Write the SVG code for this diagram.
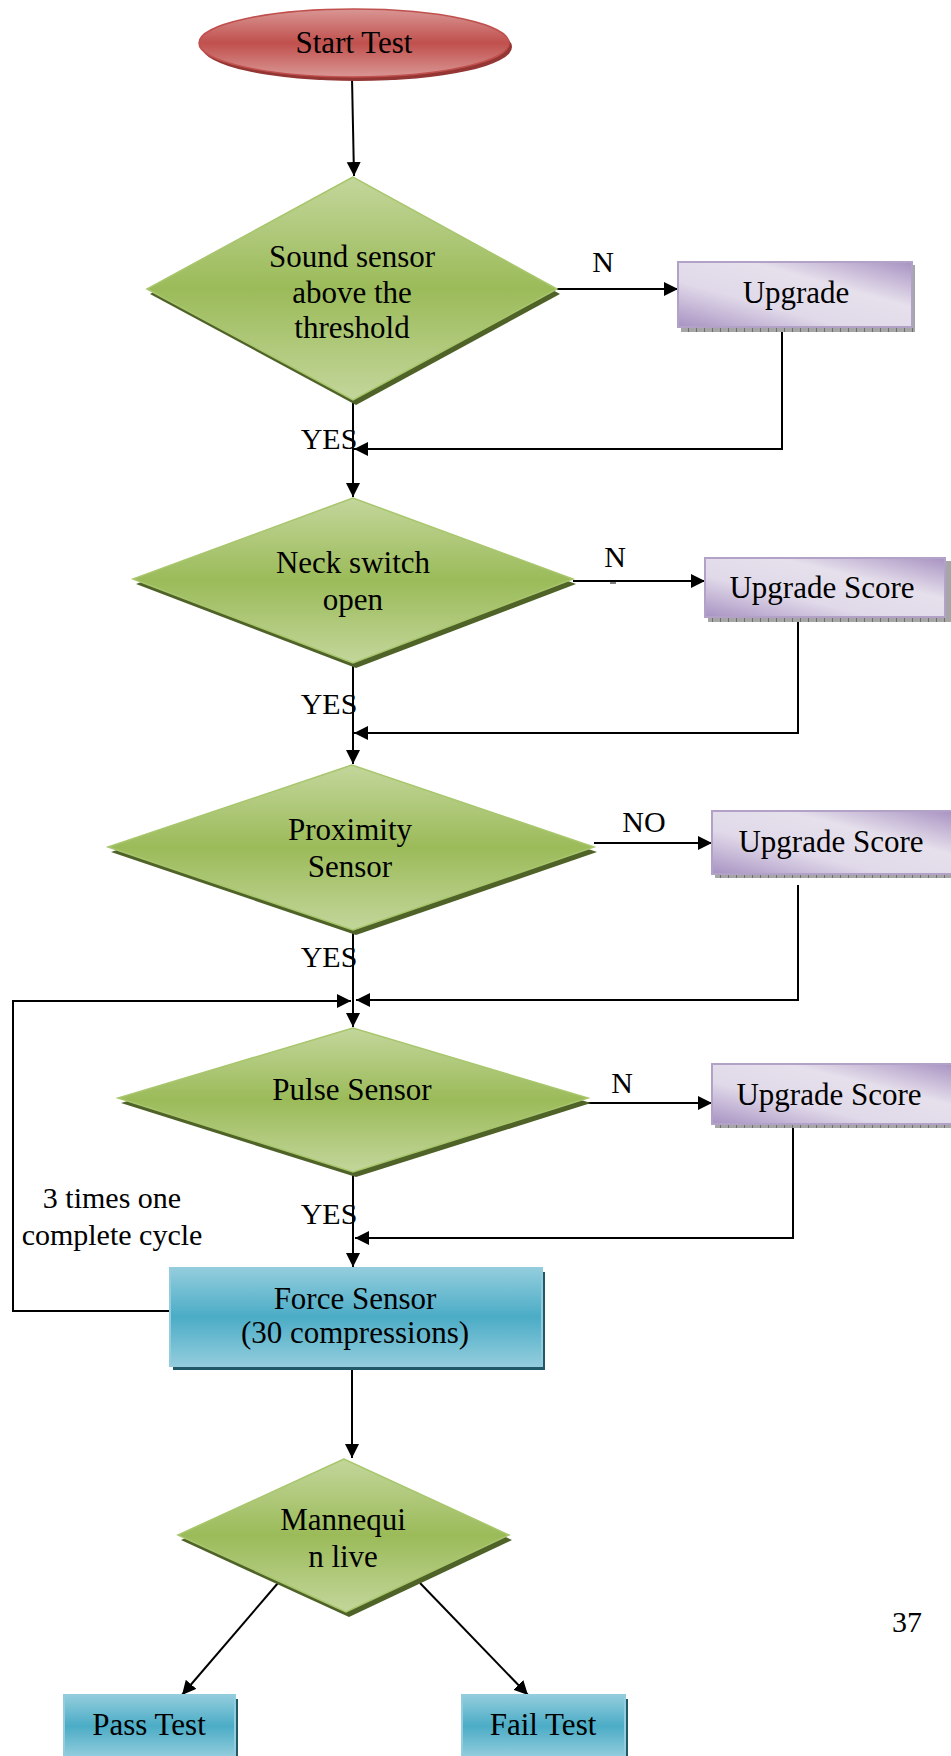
<svg xmlns="http://www.w3.org/2000/svg" width="951" height="1756" viewBox="0 0 951 1756">
<style>
text{font-family:"Liberation Serif","Times New Roman",serif;font-size:31px;fill:#000;text-anchor:middle}
.lbl{font-size:30px}
.cn{fill:none;stroke:#000;stroke-width:2}
.dia{fill:url(#gGreen);stroke:#a8c66c;stroke-width:1.5}
.diaS{fill:#4f6228}
.pur{fill:url(#gPurple);stroke:#b3a2c7;stroke-width:2}
.purS{fill:url(#hatch)}
.teal{fill:url(#gTeal);stroke:#93cddd;stroke-width:2}
.tealS{fill:#215968}
</style>
<defs>
<linearGradient id="gGreen" x1="0" y1="0" x2="0" y2="1">
<stop offset="0" stop-color="#c3d69b"/><stop offset="0.5" stop-color="#9bbb59"/><stop offset="1" stop-color="#c3d69b"/>
</linearGradient>
<linearGradient id="gTeal" x1="0" y1="0" x2="0" y2="1">
<stop offset="0" stop-color="#93cddd"/><stop offset="0.5" stop-color="#4bacc6"/><stop offset="1" stop-color="#93cddd"/>
</linearGradient>
<linearGradient id="gRed" x1="0" y1="0" x2="0" y2="1">
<stop offset="0" stop-color="#d99694"/><stop offset="0.5" stop-color="#c0504d"/><stop offset="1" stop-color="#d99694"/>
</linearGradient>
<linearGradient id="gPurple" x1="0" y1="1" x2="1" y2="0">
<stop offset="0" stop-color="#a892c2"/><stop offset="0.35" stop-color="#e0d9e9"/><stop offset="0.65" stop-color="#e6e0ec"/><stop offset="1" stop-color="#a892c2"/>
</linearGradient>
<pattern id="hatch" width="8" height="6" patternUnits="userSpaceOnUse">
<rect width="8" height="6" fill="#a6a6a6"/><rect width="1" height="6" fill="#6f6f6f"/>
</pattern>
<marker id="ah" markerUnits="userSpaceOnUse" markerWidth="16" markerHeight="16" refX="14" refY="7" orient="auto">
<path d="M0,0 L14,7 L0,14 Z" fill="#000"/>
</marker>
</defs>

<g id="connectors">
<path class="cn" d="M352,78 L354,176" marker-end="url(#ah)"/>
<path class="cn" d="M557,289 L678,289" marker-end="url(#ah)"/>
<path class="cn" d="M782,327 L782,449 L354,449" marker-end="url(#ah)"/>
<path class="cn" d="M353,400 L353,497" marker-end="url(#ah)"/>
<path class="cn" d="M573,581 L705,581" marker-end="url(#ah)"/>
<path class="cn" d="M798,618 L798,733 L354,733" marker-end="url(#ah)"/>
<path class="cn" d="M353,663 L353,764" marker-end="url(#ah)"/>
<path class="cn" d="M594,843 L712,843" marker-end="url(#ah)"/>
<path class="cn" d="M798,885 L798,1000 L356,1000" marker-end="url(#ah)"/>
<path class="cn" d="M170,1311 L13,1311 L13,1001 L351,1001" marker-end="url(#ah)"/>
<path class="cn" d="M353,930 L353,1027" marker-end="url(#ah)"/>
<path class="cn" d="M588,1103 L712,1103" marker-end="url(#ah)"/>
<path class="cn" d="M793,1124 L793,1238 L355,1238" marker-end="url(#ah)"/>
<path class="cn" d="M353,1172 L353,1267" marker-end="url(#ah)"/>
<path class="cn" d="M352,1366 L352,1458" marker-end="url(#ah)"/>
<path class="cn" d="M278,1583 L182,1695" marker-end="url(#ah)"/>
<path class="cn" d="M420,1583 L528,1695" marker-end="url(#ah)"/>
<path d="M610,583 L616,583" stroke="#000" stroke-width="1"/>
<text class="lbl" x="329" y="449">YES</text>
<text class="lbl" x="329" y="714">YES</text>
<text class="lbl" x="329" y="967">YES</text>
<text class="lbl" x="329" y="1224">YES</text>
<text class="lbl" x="603" y="272">N</text>
<text class="lbl" x="615" y="567">N</text>
<text class="lbl" x="644" y="832">NO</text>
<text class="lbl" x="622" y="1093">N</text>
<text class="lbl" x="112" y="1208">3 times one</text>
<text class="lbl" x="112" y="1245">complete cycle</text>
</g>

<g id="start">
<ellipse cx="357" cy="47" rx="155" ry="34" fill="#943634"/>
<ellipse cx="354" cy="43" rx="155" ry="34" fill="url(#gRed)" stroke="#c0504d" stroke-width="1.5"/>
<text x="354" y="53">Start Test</text>
</g>

<g id="sound">
<polygon class="diaS" points="356,182 150,294 356,405 560,294"/>
<polygon class="dia" points="353,177 147,289 353,400 557,289"/>
<text x="352" y="267">Sound sensor</text>
<text x="352" y="303">above the</text>
<text x="352" y="338">threshold</text>
</g>

<g id="upgrade1">
<rect class="purS" x="681" y="265" width="234" height="67"/>
<rect class="pur" x="678" y="262" width="234" height="65"/>
<text x="796" y="303">Upgrade</text>
</g>

<g id="neck">
<polygon class="diaS" points="356,503 136,584 356,668 576,584"/>
<polygon class="dia" points="353,498 133,579 353,663 573,579"/>
<text x="353" y="573">Neck switch</text>
<text x="353" y="610">open</text>
</g>

<g id="upgrade2">
<rect class="purS" x="708" y="561" width="243" height="61"/>
<rect class="pur" x="705" y="558" width="240" height="59"/>
<text x="822" y="598">Upgrade Score</text>
</g>

<g id="proximity">
<polygon class="diaS" points="355,770 111,852 356,935 597,852"/>
<polygon class="dia" points="352,765 108,847 353,930 594,847"/>
<text x="350" y="840">Proximity</text>
<text x="350" y="877">Sensor</text>
</g>

<g id="upgrade3">
<rect class="purS" x="715" y="814" width="240" height="64"/>
<rect class="pur" x="712" y="811" width="242" height="63"/>
<text x="831" y="852">Upgrade Score</text>
</g>

<g id="pulse">
<polygon class="diaS" points="356,1033 121,1103 356,1177 591,1103"/>
<polygon class="dia" points="353,1028 118,1098 353,1172 588,1098"/>
<text x="352" y="1100">Pulse Sensor</text>
</g>

<g id="upgrade4">
<rect class="purS" x="715" y="1067" width="240" height="61"/>
<rect class="pur" x="712" y="1064" width="242" height="60"/>
<text x="829" y="1105">Upgrade Score</text>
</g>

<g id="force">
<rect class="tealS" x="173" y="1272" width="372" height="98"/>
<rect class="teal" x="170" y="1268" width="372" height="98"/>
<text x="355" y="1309">Force Sensor</text>
<text x="355" y="1343">(30 compressions)</text>
</g>

<g id="mannequin">
<polygon class="diaS" points="347,1464 181,1540 349,1617 512,1540"/>
<polygon class="dia" points="344,1459 178,1535 346,1612 509,1535"/>
<text x="343" y="1530">Mannequi</text>
<text x="343" y="1567">n live</text>
</g>

<g id="pass">
<rect class="tealS" x="67" y="1699" width="171" height="60"/>
<rect class="teal" x="64" y="1695" width="171" height="62"/>
<text x="149" y="1735">Pass Test</text>
</g>

<g id="fail">
<rect class="tealS" x="465" y="1699" width="163" height="60"/>
<rect class="teal" x="462" y="1695" width="163" height="62"/>
<text x="543" y="1735">Fail Test</text>
</g>

<text class="lbl" x="907" y="1632">37</text>
</svg>
